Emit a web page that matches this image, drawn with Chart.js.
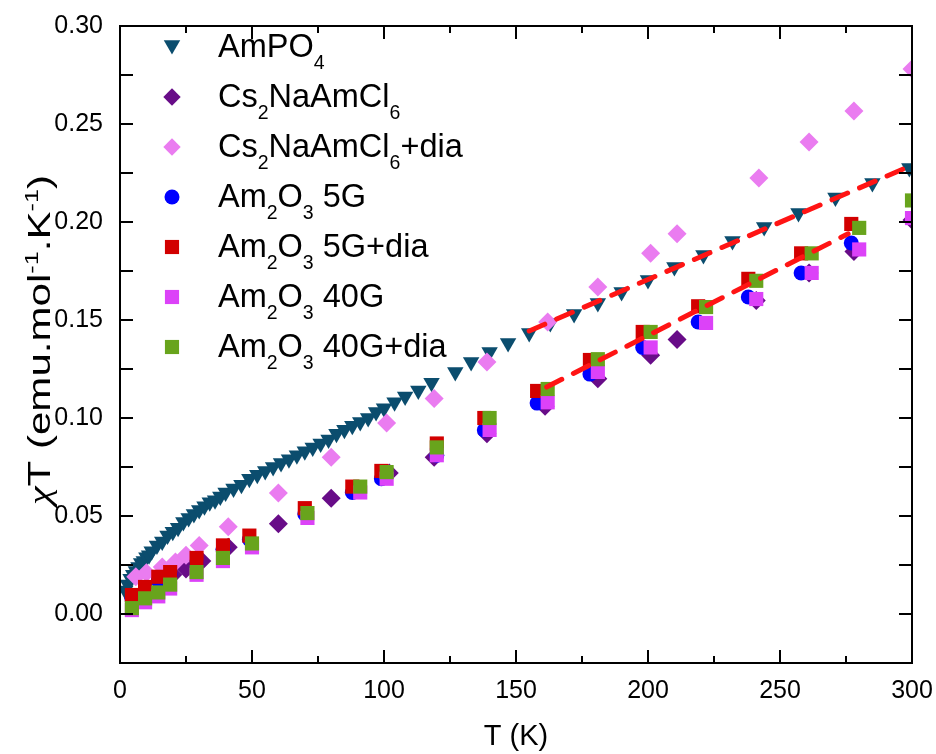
<!DOCTYPE html>
<html>
<head>
<meta charset="utf-8">
<script src="https://cdn.jsdelivr.net/npm/chart.js@4.4.1/dist/chart.umd.min.js"></script>
<style>
  html, body { margin: 0; padding: 0; background: #fff; }
</style>
</head>
<body>
<canvas id="grafico" width="936" height="754"></canvas>
<script>
// ticks
const xTicks = [0, 50, 100, 150, 200, 250, 300];
const yTicks = [0.00, 0.05, 0.10, 0.15, 0.20, 0.25, 0.30];

// AmPO4
const tAmPO4 = [2,3,4,5,6,7,8,9,10,11,12,14,16,18,20,22,24,26,28,30,32,34,36,38,40,43,46,49,52,55,58,61,64,67,70,73,76,79,82,85,88,91,94,97,100,104,108,113,118,127,133,140,147,155,163,172,181,190,200,210,221,232,244,257,271,285,299];
const vAmPO4 = [0.012,0.015,0.018,0.020,0.022,0.024,0.026,0.027,0.029,0.030,0.032,0.035,0.037,0.040,0.042,0.044,0.047,0.049,0.051,0.053,0.055,0.057,0.058,0.060,0.062,0.064,0.066,0.069,0.071,0.073,0.075,0.077,0.079,0.081,0.083,0.085,0.087,0.089,0.092,0.094,0.096,0.098,0.100,0.103,0.105,0.108,0.111,0.114,0.118,0.1235,0.1286,0.1337,0.1383,0.1434,0.1485,0.1531,0.1587,0.1643,0.1704,0.1770,0.1832,0.1903,0.1974,0.2046,0.2125,0.2199,0.2276];

// Cs2NaAmCl6
const tCs = [20,25,31,41,60,80,102,119,139,161,181,201,211,241,261,278,300];
const vCs = [0.020,0.023,0.027,0.034,0.046,0.059,0.072,0.080,0.092,0.106,0.120,0.132,0.140,0.160,0.174,0.185,0.201];

// Cs2NaAmCl6 + dia
const tCsDia = [6,10,16,21,25,30,41,60,80,101,119,139,162,181,201,211,242,261,278,300];
const vCsDia = [0.019,0.021,0.024,0.0265,0.030,0.035,0.0445,0.0617,0.080,0.0975,0.110,0.1286,0.149,0.1668,0.184,0.194,0.2224,0.2408,0.2566,0.278];

// Am2O3 5G e 5G+dia
const t5G = [4.5,9.5,14.5,19,29,39,49,70,88,99,120,138,158,178,198,219,238,258,277];
const v5G = [0.008,0.012,0.017,0.020,0.026,0.033,0.038,0.051,0.062,0.069,0.081,0.0939,0.1076,0.1224,0.136,0.149,0.1617,0.174,0.1893];
const v5GDia = [0.0097,0.0138,0.019,0.0214,0.0286,0.035,0.040,0.054,0.065,0.073,0.087,0.100,0.1138,0.1296,0.1439,0.157,0.171,0.184,0.199];

// Am2O3 40G e 40G+dia
const t40G = [4.5,9.5,14.5,19,29,39,50,71,91,101,120,140,162,181,201,222,241,262,280,300];
const v40G = [0.002,0.006,0.009,0.013,0.020,0.027,0.034,0.049,0.062,0.069,0.081,0.0939,0.108,0.1235,0.136,0.1485,0.1607,0.174,0.186,0.202];
const v40GDia = [0.003,0.008,0.011,0.015,0.0214,0.0286,0.036,0.0515,0.065,0.0724,0.085,0.100,0.1148,0.130,0.1439,0.1566,0.170,0.184,0.197,0.211];

// ajustes lineares (tracejado)
const tAjuste1 = [155, 300];
const vAjuste1 = [0.1444, 0.2290];
const tAjuste2 = [161.6, 275.8];
const vAjuste2 = [0.1158, 0.1940];

const legendas = ['AmPO_{4}', 'Cs_{2}NaAmCl_{6}', 'Cs_{2}NaAmCl_{6}+dia', 'Am_{2}O_{3} 5G', 'Am_{2}O_{3} 5G+dia', 'Am_{2}O_{3} 40G', 'Am_{2}O_{3} 40G+dia'];

const fonte = '"Liberation Sans", Arial, sans-serif';
const fonteGrega = '"Liberation Serif", "DejaVu Serif", serif';

function pontos(ts, vs) {
    return ts.map((t, i) => ({ x: t, y: vs[i] }));
}

const series = [
    { label: legendas[0], data: pontos(tAmPO4, vAmPO4), cor: '#0b4d6e', forma: 'triangle', raio: 9.5, rot: 180 },
    { label: legendas[1], data: pontos(tCs, vCs), cor: '#680c88', forma: 'rectRot', raio: 9.5, rot: 0 },
    { label: legendas[2], data: pontos(tCsDia, vCsDia), cor: '#ea7cf0', forma: 'rectRot', raio: 9.5, rot: 0 },
    { label: legendas[3], data: pontos(t5G, v5G), cor: '#0000ff', forma: 'circle', raio: 7.5, rot: 0 },
    { label: legendas[4], data: pontos(t5G, v5GDia), cor: '#d20000', forma: 'rect', raio: 10, rot: 0 },
    { label: legendas[5], data: pontos(t40G, v40G), cor: '#dc42f8', forma: 'rect', raio: 10, rot: 0 },
    { label: legendas[6], data: pontos(t40G, v40GDia), cor: '#68a41c', forma: 'rect', raio: 10, rot: 0 }
];

const datasets = series.map((s, i) => ({
    label: s.label,
    data: s.data,
    backgroundColor: s.cor,
    borderColor: s.cor,
    borderWidth: 0,
    pointStyle: s.forma,
    pointRadius: s.raio,
    pointHoverRadius: s.raio,
    pointRotation: s.rot,
    pointBorderWidth: 0,
    showLine: false,
    clip: 0,
    order: series.length - i + 1
}));

[[tAjuste1, vAjuste1], [tAjuste2, vAjuste2]].forEach(([ts, vs]) => {
    datasets.push({
        label: 'ajuste',
        data: pontos(ts, vs),
        showLine: true,
        borderColor: '#ff1414',
        borderWidth: 5,
        borderDash: [17, 13],
        borderCapStyle: 'round',
        pointRadius: 0,
        fill: false,
        clip: 0,
        order: 0
    });
});

// desenha texto com _{sub}, ^{sup} e ~{grego}
function textoRico(ctx, str, x, y, tam, medir) {
    const partes = [];
    const re = /([_^~])\{([^}]*)\}|([^_^~]+)/g;
    let m;
    while ((m = re.exec(str)) !== null) {
        if (m[3]) partes.push({ t: m[3], tipo: 0 });
        else partes.push({ t: m[2], tipo: m[1] === '_' ? 1 : (m[1] === '^' ? 2 : 3) });
    }
    let cx = x;
    partes.forEach(p => {
        const sz = (p.tipo === 1 || p.tipo === 2) ? tam * 0.6 : tam;
        ctx.font = p.tipo === 3 ? ('italic ' + sz + 'px ' + fonteGrega) : (sz + 'px ' + fonte);
        const dy = p.tipo === 1 ? tam * 0.36 : (p.tipo === 2 ? -tam * 0.38 : 0);
        if (!medir) ctx.fillText(p.t, cx, y + dy);
        cx += ctx.measureText(p.t).width;
    });
    return cx - x;
}

function marcador(ctx, forma, x, y, r) {
    ctx.beginPath();
    if (forma === 'triangle') {
        const s = r * Math.sin(Math.PI / 3);
        ctx.moveTo(x, y + r);
        ctx.lineTo(x - s, y - r / 2);
        ctx.lineTo(x + s, y - r / 2);
    } else if (forma === 'rectRot') {
        ctx.moveTo(x - r, y); ctx.lineTo(x, y - r); ctx.lineTo(x + r, y); ctx.lineTo(x, y + r);
    } else if (forma === 'circle') {
        ctx.arc(x, y, r, 0, Math.PI * 2);
    } else {
        const h = r * Math.SQRT1_2;
        ctx.rect(x - h, y - h, 2 * h, 2 * h);
    }
    ctx.closePath();
    ctx.fill();
}

const molduraPlugin = {
    id: 'moldura',
    afterDraw(chart) {
        const { ctx, chartArea: a, scales: { x, y } } = chart;
        ctx.save();
        ctx.strokeStyle = '#000';
        ctx.lineWidth = 2;
        ctx.strokeRect(a.left, a.top, a.right - a.left, a.bottom - a.top);

        const linha = (x1, y1, x2, y2) => { ctx.beginPath(); ctx.moveTo(x1, y1); ctx.lineTo(x2, y2); ctx.stroke(); };
        for (let i = 0; i < xTicks.length; i++) {
            const px = x.getPixelForValue(xTicks[i]);
            linha(px, a.bottom, px, a.bottom - 13);
            linha(px, a.top, px, a.top + 13);
            if (i < xTicks.length - 1) {
                const pm = x.getPixelForValue((xTicks[i] + xTicks[i + 1]) / 2);
                linha(pm, a.bottom, pm, a.bottom - 7);
                linha(pm, a.top, pm, a.top + 7);
            }
        }
        for (let i = 0; i < yTicks.length; i++) {
            const py = y.getPixelForValue(yTicks[i]);
            linha(a.left, py, a.left + 13, py);
            linha(a.right, py, a.right - 13, py);
            const pm = y.getPixelForValue(yTicks[i] - 0.025);
            if (pm < a.bottom - 1) {
                linha(a.left, pm, a.left + 13, pm);
                linha(a.right, pm, a.right - 13, pm);
            }
        }

        // legenda
        ctx.textBaseline = 'alphabetic';
        ctx.textAlign = 'left';
        series.forEach((s, i) => {
            const cy = 47 + i * 50;
            ctx.fillStyle = s.cor;
            marcador(ctx, s.forma, 172, cy + (s.forma === 'triangle' ? -2 : 0), s.forma === 'rectRot' ? 8.7 : s.raio);
            ctx.fillStyle = '#000';
            textoRico(ctx, s.label, 218, cy + 10, 32.5);
        });

        // titulo do eixo y
        const titulo = '~{\u03c7}T (emu.mol^{-1}.K^{-1})';
        ctx.translate(50, 340);
        ctx.rotate(-Math.PI / 2);
        const w = textoRico(ctx, titulo, 0, 0, 31, true);
        ctx.scale(330 / w, 1);
        textoRico(ctx, titulo, -w / 2, 0, 31);
        ctx.restore();
    }
};

new Chart(document.getElementById('grafico').getContext('2d'), {
    type: 'scatter',
    data: { datasets: datasets },
    plugins: [molduraPlugin],
    options: {
        responsive: false,
        animation: false,
        layout: { padding: { left: 0, right: 24, top: 26, bottom: 0 } },
        plugins: {
            legend: { display: false },
            tooltip: { enabled: false }
        },
        scales: {
            x: {
                type: 'linear',
                min: 0,
                max: 300,
                afterFit: (scale) => {
                    scale.height = 91;
                    scale.paddingLeft = 0;
                    scale.paddingRight = 0;
                },
                afterBuildTicks: (scale) => { scale.ticks = xTicks.map(v => ({ value: v })); },
                grid: { display: false, drawTicks: false },
                border: { display: false },
                ticks: { color: '#000', padding: 13, font: { family: fonte, size: 25 }, maxRotation: 0, autoSkip: false },
                title: { display: true, text: 'T (K)', color: '#000', font: { family: fonte, size: 29 }, padding: { top: 0, bottom: 0 } }
            },
            y: {
                type: 'linear',
                min: -0.025,
                max: 0.30,
                afterFit: (scale) => {
                    scale.width = 120;
                    scale.paddingTop = 0;
                    scale.paddingBottom = 0;
                },
                afterBuildTicks: (scale) => { scale.ticks = yTicks.map(v => ({ value: v })); },
                grid: { display: false, drawTicks: false },
                border: { display: false },
                ticks: { color: '#000', padding: 17, font: { family: fonte, size: 25 }, autoSkip: false, callback: (v) => v.toFixed(2) }
            }
        }
    }
});
</script>
</body>
</html>
